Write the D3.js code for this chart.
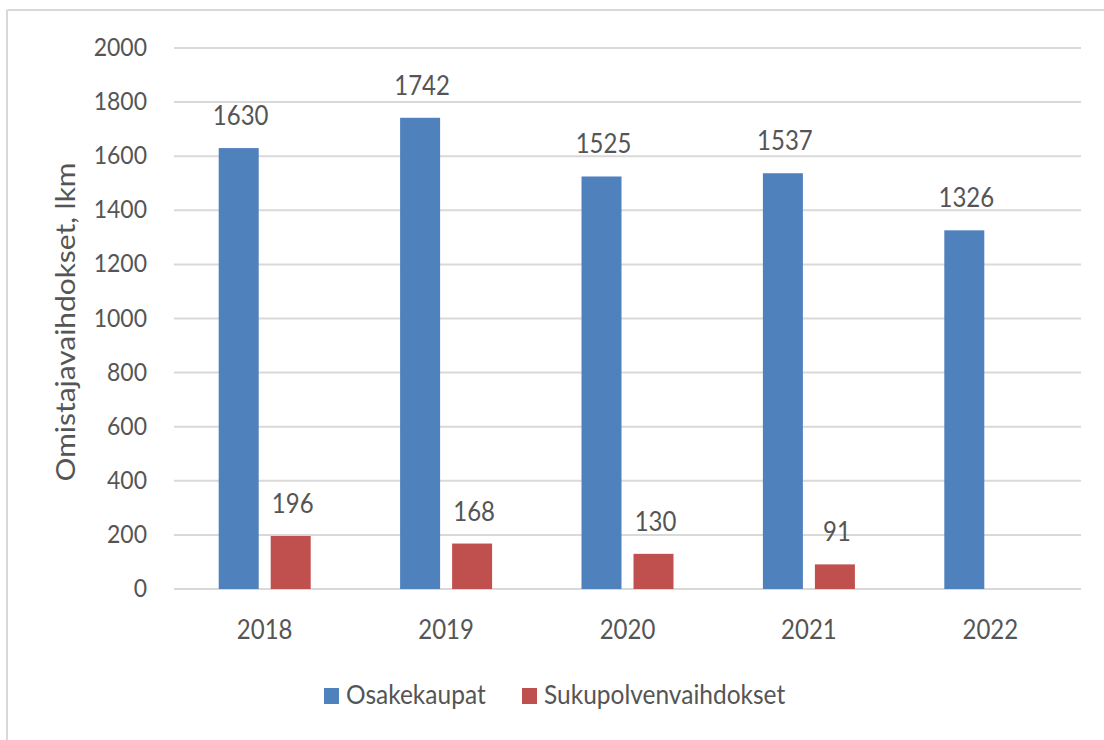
<!DOCTYPE html>
<html>
<head>
<meta charset="utf-8">
<script src="https://cdn.jsdelivr.net/npm/d3@7"></script>
<style>
body { margin:0; background:#fff; }
text { font-family: Lato, "Liberation Sans", sans-serif; fill:#555; }
</style>
</head>
<body>
<script>
var years = ["2018","2019","2020","2021","2022"]
var osakekaupat = [1630,1742,1525,1537,1326]
var sukupolvenvaihdokset = [196,168,130,91,null]
var seriesNames = ["Osakekaupat","Sukupolvenvaihdokset"]
var seriesColors = ["#4f81bd","#c0504d"]
var yTicks = [0,200,400,600,800,1000,1200,1400,1600,1800,2000]

var width=1104, height=740
var plot = {left:174, right:1081, top:48, bottom:589}
var fs = 24, sy = 1.1

var svg = d3.select("body").append("svg").attr("width",width).attr("height",height)

// outer frame (only top/left visible)
svg.append("line").attr("x1",7).attr("x2",width).attr("y1",10).attr("y2",10).attr("stroke","#d9d9d9").attr("stroke-width",2)
svg.append("line").attr("x1",7).attr("x2",7).attr("y1",10).attr("y2",height).attr("stroke","#d9d9d9").attr("stroke-width",2)

var x = d3.scaleBand().domain(years).range([plot.left,plot.right])
var y = d3.scaleLinear().domain([0,2000]).range([plot.bottom,plot.top])

function label(g,tx,ty,str,anchor,size)
{
	return g.append("text")
		.attr("transform","translate("+tx+","+ty+") scale(1,"+sy+")")
		.attr("text-anchor",anchor)
		.style("font-size",(size||fs)+"px")
		.text(str)
}

// gridlines
svg.append("g").selectAll("line").data(yTicks).enter().append("line")
	.attr("x1",plot.left).attr("x2",plot.right)
	.attr("y1",function(d){return y(d)}).attr("y2",function(d){return y(d)})
	.attr("stroke","#d9d9d9").attr("stroke-width",2)

// y tick labels
var yl = svg.append("g")
yTicks.forEach(function(t){ label(yl,147,y(t)+8,t,"end",23) })

// y title
svg.append("text")
	.attr("transform","translate(75,322) rotate(-90) scale(1.15,1)")
	.attr("text-anchor","middle")
	.style("font-size","26px")
	.text("Omistajavaihdokset, lkm")

// bars
var barW = 40, gap = 12
var series = [osakekaupat, sukupolvenvaihdokset]
series.forEach(function(vals,si){
	var g = svg.append("g")
	var off = si==0 ? -(gap/2+barW) : gap/2
	var data = years.map(function(yr,i){return {yr:yr,v:vals[i]}}).filter(function(d){return d.v!=null})
	g.selectAll("rect").data(data).enter().append("rect")
		.attr("x",function(d){return x(d.yr)+x.bandwidth()/2+off})
		.attr("y",function(d){return y(d.v)})
		.attr("width",barW)
		.attr("height",function(d){return y(0)-y(d.v)})
		.attr("fill",seriesColors[si])
	data.forEach(function(d){
		label(g,x(d.yr)+x.bandwidth()/2+off+barW/2+2,y(d.v)-23,d.v,"middle")
	})
})

// x labels
var xl = svg.append("g")
years.forEach(function(yr){ label(xl,x(yr)+x.bandwidth()/2,639,yr,"middle") })

// legend
var leg = svg.append("g")
var lx = [324,522]
seriesNames.forEach(function(n,i){
	leg.append("rect").attr("x",lx[i]).attr("y",688).attr("width",15).attr("height",16).attr("fill",seriesColors[i])
	label(leg,lx[i]+22,704,n,"start",24.5)
})
</script>
</body>
</html>
